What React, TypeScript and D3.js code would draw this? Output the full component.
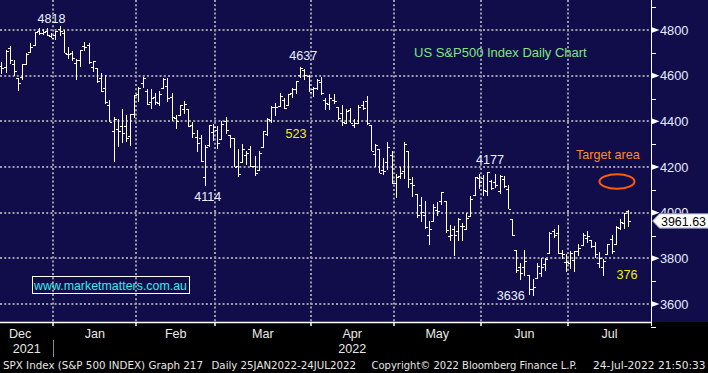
import * as d3 from 'd3';

// SPX daily bars, 13 Dec 2021 .. 22 Jul 2022
const dates = [
  '2021-12-13', '2021-12-14', '2021-12-15', '2021-12-16', '2021-12-17', '2021-12-20', '2021-12-21', '2021-12-22', '2021-12-23', '2021-12-27', '2021-12-28', '2021-12-29', '2021-12-30', '2021-12-31',
  '2022-01-03', '2022-01-04', '2022-01-05', '2022-01-06', '2022-01-07', '2022-01-10', '2022-01-11', '2022-01-12', '2022-01-13', '2022-01-14', '2022-01-18', '2022-01-19', '2022-01-20', '2022-01-21', '2022-01-24', '2022-01-25', '2022-01-26', '2022-01-27', '2022-01-28', '2022-01-31',
  '2022-02-01', '2022-02-02', '2022-02-03', '2022-02-04', '2022-02-07', '2022-02-08', '2022-02-09', '2022-02-10', '2022-02-11', '2022-02-14', '2022-02-15', '2022-02-16', '2022-02-17', '2022-02-18', '2022-02-22', '2022-02-23', '2022-02-24', '2022-02-25', '2022-02-28',
  '2022-03-01', '2022-03-02', '2022-03-03', '2022-03-04', '2022-03-07', '2022-03-08', '2022-03-09', '2022-03-10', '2022-03-11', '2022-03-14', '2022-03-15', '2022-03-16', '2022-03-17', '2022-03-18', '2022-03-21', '2022-03-22', '2022-03-23', '2022-03-24', '2022-03-25', '2022-03-28', '2022-03-29', '2022-03-30', '2022-03-31',
  '2022-04-01', '2022-04-04', '2022-04-05', '2022-04-06', '2022-04-07', '2022-04-08', '2022-04-11', '2022-04-12', '2022-04-13', '2022-04-14', '2022-04-18', '2022-04-19', '2022-04-20', '2022-04-21', '2022-04-22', '2022-04-25', '2022-04-26', '2022-04-27', '2022-04-28', '2022-04-29',
  '2022-05-02', '2022-05-03', '2022-05-04', '2022-05-05', '2022-05-06', '2022-05-09', '2022-05-10', '2022-05-11', '2022-05-12', '2022-05-13', '2022-05-16', '2022-05-17', '2022-05-18', '2022-05-19', '2022-05-20', '2022-05-23', '2022-05-24', '2022-05-25', '2022-05-26', '2022-05-27', '2022-05-31',
  '2022-06-01', '2022-06-02', '2022-06-03', '2022-06-06', '2022-06-07', '2022-06-08', '2022-06-09', '2022-06-10', '2022-06-13', '2022-06-14', '2022-06-15', '2022-06-16', '2022-06-17', '2022-06-21', '2022-06-22', '2022-06-23', '2022-06-24', '2022-06-27', '2022-06-28', '2022-06-29', '2022-06-30',
  '2022-07-01', '2022-07-05', '2022-07-06', '2022-07-07', '2022-07-08', '2022-07-11', '2022-07-12', '2022-07-13', '2022-07-14', '2022-07-15', '2022-07-18', '2022-07-19', '2022-07-20', '2022-07-21', '2022-07-22',
];

const opens = [
  4710, 4643, 4636, 4719, 4653, 4588, 4595, 4650, 4704, 4734, 4795, 4789, 4794, 4775,
  4778, 4805, 4788, 4693, 4698, 4655, 4669, 4729, 4734, 4638, 4632, 4588, 4547, 4471, 4356, 4367, 4381, 4381, 4336, 4432,
  4520, 4566, 4535, 4483, 4506, 4480, 4547, 4553, 4506, 4413, 4429, 4456, 4456, 4385, 4333, 4325, 4156, 4298, 4354,
  4363, 4323, 4401, 4342, 4327, 4203, 4223, 4253, 4280, 4203, 4189, 4288, 4345, 4407, 4462, 4469, 4493, 4470, 4523, 4541, 4603, 4624, 4599,
  4540, 4548, 4572, 4494, 4475, 4494, 4463, 4438, 4394, 4449, 4386, 4391, 4472, 4489, 4386, 4255, 4278, 4187, 4223, 4254,
  4131, 4160, 4181, 4270, 4128, 4081, 4035, 3990, 3904, 3964, 4013, 4052, 4052, 3899, 3928, 3919, 3943, 3930, 3985, 4077, 4151,
  4150, 4095, 4138, 4135, 4096, 4147, 4102, 3974, 3838, 3764, 3764, 3728, 3666, 3715, 3734, 3775, 3822, 3921, 3913, 3825, 3786,
  3781, 3793, 3832, 3859, 3888, 3881, 3852, 3780, 3764, 3818, 3884, 3861, 3935, 3955, 4008,
];

const highs = [
  4710, 4660, 4713, 4732, 4667, 4591, 4651, 4698, 4741, 4791, 4807, 4804, 4809, 4787,
  4797, 4819, 4798, 4725, 4708, 4673, 4714, 4749, 4744, 4665, 4632, 4612, 4602, 4495, 4417, 4411, 4453, 4429, 4433, 4517,
  4550, 4595, 4543, 4540, 4522, 4531, 4590, 4589, 4526, 4426, 4473, 4490, 4456, 4395, 4362, 4342, 4295, 4385, 4389,
  4378, 4401, 4417, 4342, 4327, 4277, 4299, 4268, 4291, 4248, 4271, 4358, 4413, 4465, 4482, 4522, 4501, 4521, 4546, 4576, 4637, 4628, 4603,
  4549, 4584, 4593, 4504, 4521, 4520, 4464, 4471, 4454, 4460, 4410, 4471, 4488, 4513, 4386, 4299, 4278, 4241, 4308, 4270,
  4170, 4200, 4308, 4270, 4158, 4081, 4069, 4049, 3965, 4039, 4046, 4091, 4052, 3946, 3943, 3975, 3956, 3999, 4075, 4158, 4168,
  4167, 4178, 4143, 4169, 4165, 4160, 4119, 3974, 3838, 3778, 3838, 3728, 3708, 3780, 3802, 3803, 3914, 3928, 3946, 3837, 3819,
  3830, 3832, 3864, 3911, 3919, 3881, 3873, 3829, 3796, 3864, 3902, 3940, 3974, 3999, 4012,
];

const lows = [
  4668, 4607, 4611, 4652, 4600, 4531, 4583, 4646, 4704, 4734, 4780, 4778, 4775, 4766,
  4758, 4774, 4699, 4671, 4663, 4582, 4638, 4707, 4650, 4615, 4569, 4530, 4478, 4395, 4223, 4287, 4305, 4310, 4292, 4414,
  4484, 4544, 4470, 4452, 4471, 4465, 4547, 4484, 4401, 4365, 4429, 4430, 4374, 4327, 4267, 4222, 4115, 4287, 4315,
  4280, 4323, 4346, 4285, 4200, 4158, 4223, 4210, 4200, 4162, 4188, 4286, 4336, 4391, 4424, 4469, 4456, 4465, 4501, 4518, 4590, 4581, 4530,
  4508, 4539, 4514, 4450, 4450, 4475, 4408, 4381, 4393, 4391, 4370, 4391, 4449, 4384, 4268, 4201, 4175, 4163, 4189, 4124,
  4063, 4147, 4149, 4106, 4068, 3975, 3958, 3929, 3859, 3964, 3984, 4034, 3912, 3877, 3810, 3875, 3875, 3925, 3985, 4077, 4105,
  4074, 4074, 4099, 4109, 4080, 4107, 4017, 3900, 3734, 3706, 3722, 3640, 3637, 3715, 3718, 3744, 3822, 3890, 3820, 3799, 3739,
  3752, 3742, 3811, 3859, 3869, 3847, 3802, 3759, 3722, 3817, 3819, 3861, 3922, 3928, 3938,
];

const closes = [
  4668.97, 4634.09, 4709.85, 4668.67, 4620.64, 4568.02, 4649.23, 4696.56, 4725.79, 4791.19, 4786.35, 4793.06, 4778.73, 4766.18,
  4796.56, 4793.54, 4700.58, 4696.05, 4677.03, 4670.29, 4713.07, 4726.35, 4659.03, 4662.85, 4577.11, 4532.76, 4482.73, 4397.94, 4410.13, 4356.45, 4349.93, 4326.51, 4431.85, 4515.55,
  4546.54, 4589.38, 4477.44, 4500.53, 4483.87, 4521.54, 4587.18, 4504.08, 4418.64, 4401.67, 4471.07, 4475.01, 4380.26, 4348.87, 4304.76, 4225.5, 4288.7, 4384.65, 4373.94,
  4306.26, 4386.54, 4363.49, 4328.87, 4201.09, 4170.7, 4277.88, 4259.52, 4204.31, 4173.11, 4262.45, 4357.86, 4411.67, 4463.12, 4461.18, 4511.61, 4456.24, 4520.16, 4543.06, 4575.52, 4631.6, 4602.45, 4530.41,
  4545.86, 4582.64, 4525.12, 4481.15, 4500.21, 4488.28, 4412.53, 4397.45, 4446.59, 4392.59, 4391.69, 4462.21, 4459.45, 4393.66, 4271.78, 4296.12, 4175.2, 4183.96, 4287.5, 4131.93,
  4155.38, 4175.48, 4300.17, 4146.87, 4123.34, 3991.24, 4001.05, 3935.18, 3930.08, 4023.89, 4008.01, 4088.85, 3923.68, 3900.79, 3901.36, 3973.75, 3941.48, 3978.73, 4057.84, 4158.24, 4132.15,
  4101.23, 4176.82, 4108.54, 4121.43, 4160.68, 4115.77, 4017.82, 3900.86, 3749.63, 3735.48, 3789.99, 3666.77, 3674.84, 3764.79, 3759.89, 3795.73, 3911.74, 3900.11, 3821.55, 3818.83, 3785.38,
  3825.33, 3831.39, 3845.08, 3902.62, 3899.38, 3854.43, 3818.8, 3801.78, 3790.38, 3863.16, 3830.85, 3936.69, 3959.9, 3998.95, 3961.63,
];

const yTicks = [3600, 3800, 4000, 4200, 4400, 4600, 4800];
const yMinorTicks = [3500, 3700, 3900, 4100, 4300, 4500, 4700, 4900];
const monthLabels = ['Dec', 'Jan', 'Feb', 'Mar', 'Apr', 'May', 'Jun', 'Jul'];
const yearLabels = ['2021', '2022'];

// peak / trough call-outs: [text, date, value]
const peakNotes: [string, string, number][] = [
  ['4818', '2022-01-04', 4819],
  ['4637', '2022-03-29', 4637],
  ['4177', '2022-06-02', 4178],
];
const troughNotes: [string, string, number][] = [
  ['4114', '2022-02-24', 4115],
  ['3636', '2022-06-17', 3637],
];
const moveNotes = ['523', '376'];

const footer = [
  'SPX Index (S&P 500 INDEX) Graph 217',
  'Daily 25JAN2022-24JUL2022',
  'Copyright\u00a9 2022 Bloomberg Finance L.P.',
  '24-Jul-2022 21:50:33',
];

const W = 708;
const H = 373;
const plotRight = 651;
const plotBottom = 322;
const navy = '#110d4b';
const gridColor = '#9c9cab';
const font = 'Liberation Sans, Arial, sans-serif';

export default function App() {
  const step = 4.151;
  const x = d3
    .scaleBand<string>()
    .domain(dates)
    .range([-4.8, -4.8 + dates.length * step]);
  const cx = (d: string) => (x(d) ?? 0) + x.bandwidth() / 2;
  const y = d3.scaleLinear().domain([3600, 4800]).range([304, 30]);

  // first trading day of each month
  const monthStarts = dates.filter(
    (d, i) => i === 0 || d.slice(0, 7) !== dates[i - 1].slice(0, 7)
  );
  const monthLeft = monthStarts.map((d, i) =>
    i === 0 ? x.range()[0] - 2 * step : x(d) ?? 0
  );
  const monthCenters = monthLeft.map(
    (l, i) => (l + (i + 1 < monthLeft.length ? monthLeft[i + 1] : plotRight)) / 2
  );
  const yearStart = x(monthStarts[1]) ?? 0;
  const yearCenters = [yearStart / 2, (yearStart + plotRight) / 2];

  const last = closes[closes.length - 1];
  const lastY = y(last) - 0.5;

  const footerX = [3, 211.5, 371.5, 593];
  const footerLen = [200, 144.5, 205.5, 112.5];

  return (
    <svg
      width={W}
      height={H}
      style={{ position: 'fixed', left: 0, top: 0, background: '#000' }}
      fontFamily={font}
    >
      <rect x={0} y={0} width={W} height={plotBottom} fill={navy} />

      {/* grid */}
      <g stroke={gridColor} strokeWidth={2} strokeDasharray="2,2.2">
        {yTicks.map((t) => (
          <line key={t} x1={0} x2={plotRight} y1={Math.round(y(t))} y2={Math.round(y(t))} />
        ))}
        {monthStarts.slice(1).map((d) => (
          <line key={d} x1={Math.round(x(d) ?? 0)} x2={Math.round(x(d) ?? 0)} y1={0} y2={plotBottom} />
        ))}
      </g>

      {/* OHLC bars */}
      <g stroke="#fff" strokeWidth={1} shapeRendering="crispEdges">
        {dates.map((d, i) => {
          const c = Math.round(cx(d)) + 0.5;
          return (
            <g key={d}>
              <line x1={c} x2={c} y1={y(highs[i])} y2={y(lows[i])} />
              <line x1={c - 2.5} x2={c} y1={Math.round(y(opens[i])) + 0.5} y2={Math.round(y(opens[i])) + 0.5} />
              <line x1={c} x2={c + 2.5} y1={Math.round(y(closes[i])) + 0.5} y2={Math.round(y(closes[i])) + 0.5} />
            </g>
          );
        })}
      </g>

      {/* right axis */}
      <line x1={plotRight + 0.5} x2={plotRight + 0.5} y1={0} y2={plotBottom + 4} stroke="#fff" strokeWidth={1} />
      {yMinorTicks.map((t) => (
        <line key={t} x1={plotRight} x2={plotRight + 5} y1={Math.round(y(t)) + 0.5} y2={Math.round(y(t)) + 0.5} stroke="#fff" />
      ))}
      {yTicks.map((t) => (
        <g key={t}>
          <path
            d={`M${plotRight + 1},${y(t) - 2.8}L${plotRight + 8.5},${y(t)}L${plotRight + 1},${y(t) + 2.8}Z`}
            fill="#fff"
          />
          <text x={plotRight + 9} y={y(t) + 4.6} fontSize={12.8} fill="#e4eaff">
            {t}
          </text>
        </g>
      ))}

      {/* last price */}
      <path
        d={`M${plotRight + 1.5},${lastY}L${plotRight + 8.5},${lastY - 7.2}L${W + 1},${lastY - 7.2}L${W + 1},${lastY + 7.2}L${plotRight + 8.5},${lastY + 7.2}Z`}
        fill="#fff"
        stroke="#8890b0"
        strokeWidth={1}
      />
      <text
        x={plotRight + 10}
        y={lastY + 4.6}
        fontSize={12.8}
        fill="#000"
        textLength={45}
        lengthAdjust="spacingAndGlyphs"
      >
        {last.toFixed(2)}
      </text>

      {/* bottom axis */}
      <line x1={0} x2={plotRight + 1} y1={plotBottom + 0.5} y2={plotBottom + 0.5} stroke="#fff" strokeWidth={1.5} />
      {monthStarts.slice(1).map((d) => (
        <line key={d} x1={Math.round(x(d) ?? 0)} x2={Math.round(x(d) ?? 0)} y1={plotBottom} y2={plotBottom + 4} stroke="#fff" strokeWidth={1.5} />
      ))}
      {monthLabels.map((m, i) => (
        <text key={m} x={monthCenters[i]} y={338} fontSize={12.6} fill="#e8e8e8" textAnchor="middle">
          {m}
        </text>
      ))}
      {yearLabels.map((t, i) => (
        <text key={t} x={yearCenters[i]} y={353} fontSize={12.6} fill="#e8e8e8" textAnchor="middle">
          {t}
        </text>
      ))}
      <line x1={Math.round(yearStart) + 0.5} x2={Math.round(yearStart) + 0.5} y1={340} y2={357} stroke="#8a8a8a" />

      {/* footer */}
      {footer.map((t, i) => (
        <text
          key={t}
          x={footerX[i]}
          y={369}
          fontSize={11}
          fontFamily="DejaVu Sans Condensed, DejaVu Sans, sans-serif"
          fontStretch="condensed"
          fill="#e6e6e6"
          textLength={footerLen[i]}
          lengthAdjust="spacingAndGlyphs"
        >
          {t}
        </text>
      ))}

      {/* annotations */}
      {peakNotes.map(([t, d, v], i) => (
        <text
          key={t}
          x={cx(d) + [-8, 3, 3][i]}
          y={y(v) - [3, 7, 8][i]}
          fontSize={12.6}
          fill="#eaf0ff"
          textAnchor="middle"
        >
          {t}
        </text>
      ))}
      {troughNotes.map(([t, d, v], i) => (
        <text
          key={t}
          x={cx(d) + [3, -22][i]}
          y={y(v) + [14.5, 4.5][i]}
          fontSize={12.6}
          fill="#eaf0ff"
          textAnchor="middle"
        >
          {t}
        </text>
      ))}
      <text x={296} y={138} fontSize={12.6} fill="#f2f200" textAnchor="middle">
        {moveNotes[0]}
      </text>
      <text x={627} y={279} fontSize={12.6} fill="#f2f200" textAnchor="middle">
        {moveNotes[1]}
      </text>
      <text x={414} y={57} fontSize={13} fill="#80e480">
        US S&amp;P500 Index Daily Chart
      </text>
      <text x={576} y={159} fontSize={12.6} fill="#ff8a24">
        Target area
      </text>
      <ellipse cx={617} cy={181.5} rx={17.5} ry={7.2} fill="none" stroke="#ff5c0a" strokeWidth={2} />
      <rect x={32.5} y={276.5} width={157} height={17} fill="none" stroke="#fff" strokeWidth={1} />
      <text x={34} y={290} fontSize={13} fill="#2af0f0" textLength={153} lengthAdjust="spacingAndGlyphs">
        www.marketmatters.com.au
      </text>
    </svg>
  );
}
